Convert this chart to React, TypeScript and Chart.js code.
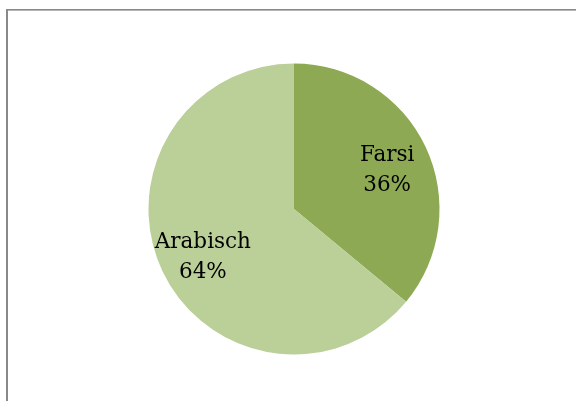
import React, { useEffect, useRef } from "react";
import { Chart, registerables } from "chart.js";

Chart.register(...registerables);

const categories = ["Farsi", "Arabisch"];
const values = [36, 64];
const valueLabels = ["36%", "64%"];
const colors = ["#8DA953", "#BBCF98"];

const frameBorder = {
  id: "frameBorder",
  beforeDraw(chart: any) {
    const ctx = chart.ctx;
    ctx.save();
    ctx.fillStyle = "#ffffff";
    ctx.fillRect(0, 0, chart.width, chart.height);
    ctx.fillStyle = "#898989";
    ctx.fillRect(6, 9, 2, chart.height - 9);
    ctx.fillRect(6, 9, chart.width - 6, 1);
    ctx.fillStyle = "#b4b4b4";
    ctx.fillRect(8, 10, chart.width - 8, 1);
    ctx.restore();
  },
};

const sliceLabels = {
  id: "sliceLabels",
  afterDatasetsDraw(chart: any) {
    const ctx = chart.ctx;
    const meta = chart.getDatasetMeta(0);
    ctx.save();
    ctx.font = '21.5px "DejaVu Serif"';
    ctx.fillStyle = "#000000";
    ctx.textAlign = "center";
    ctx.textBaseline = "alphabetic";
    meta.data.forEach((arc: any, i: number) => {
      const p = arc.getProps(["x", "y", "startAngle", "endAngle", "outerRadius"], true);
      const mid = (p.startAngle + p.endAngle) / 2;
      const r = p.outerRadius * 0.7;
      const cx = p.x + Math.cos(mid) * r;
      const cy = p.y + Math.sin(mid) * r;
      ctx.fillText(categories[i], cx + 1, cy - 4.5);
      ctx.fillText(valueLabels[i], cx + 1, cy + 25.5);
    });
    ctx.restore();
  },
};

export default function App() {
  const ref = useRef<HTMLCanvasElement | null>(null);
  useEffect(() => {
    if (!ref.current) return;
    const chart = new Chart(ref.current, {
      type: "pie",
      data: {
        labels: categories,
        datasets: [
          {
            data: values,
            backgroundColor: colors,
            borderWidth: 0,
          },
        ],
      },
      options: {
        responsive: false,
        animation: false,
        layout: { padding: { top: 63.5, bottom: 46.5, left: 148.5, right: 136.5 } },
        plugins: {
          legend: { display: false },
          tooltip: { enabled: false },
        },
      },
      plugins: [frameBorder, sliceLabels],
    });
    return () => chart.destroy();
  }, []);
  return (
    <div style={{ position: "absolute", left: 0, top: 0, width: 576, height: 401 }}>
      <canvas ref={ref} width={576} height={401} style={{ display: "block" }} />
    </div>
  );
}
